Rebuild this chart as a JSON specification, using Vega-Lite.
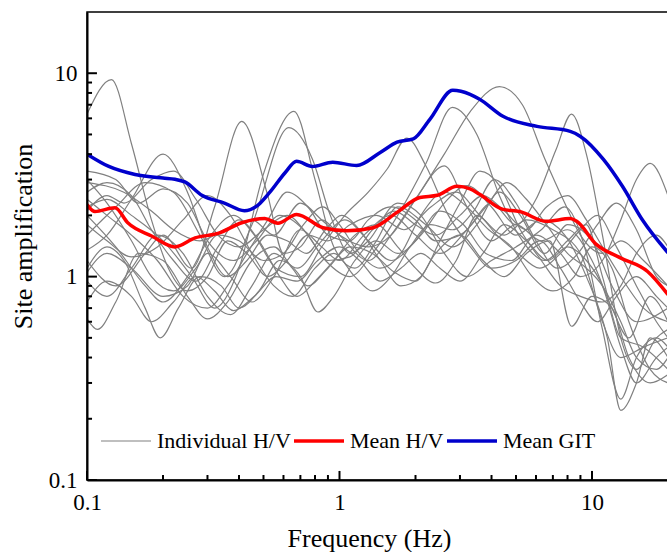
{
"$schema":"https://vega.github.io/schema/vega-lite/v6.json",
"width":581,"height":468,
"autosize":{"type":"none"},
"padding":{"left":87,"top":12,"right":0,"bottom":72},
"background":"white",
"config":{"view":{"stroke":"black","strokeWidth":1.5},"font":"Liberation Serif"},
"datasets":{"d":[
{"k":"Individual H/V","s":"g1","f":0.1,"v":6.3},{"k":"Individual H/V","s":"g1","f":0.125,"v":9.3},{"k":"Individual H/V","s":"g1","f":0.15,"v":4.5},{"k":"Individual H/V","s":"g1","f":0.18,"v":1.9},{"k":"Individual H/V","s":"g1","f":0.21,"v":1.1},{"k":"Individual H/V","s":"g1","f":0.25,"v":0.85},{"k":"Individual H/V","s":"g1","f":0.3,"v":1.0},{"k":"Individual H/V","s":"g1","f":0.36,"v":1.5},{"k":"Individual H/V","s":"g1","f":0.43,"v":1.3},{"k":"Individual H/V","s":"g1","f":0.52,"v":1.0},{"k":"Individual H/V","s":"g1","f":0.62,"v":1.2},{"k":"Individual H/V","s":"g1","f":0.75,"v":1.6},{"k":"Individual H/V","s":"g1","f":0.9,"v":1.5},{"k":"Individual H/V","s":"g1","f":1.1,"v":1.8},{"k":"Individual H/V","s":"g1","f":1.4,"v":2.0},{"k":"Individual H/V","s":"g1","f":1.8,"v":1.7},{"k":"Individual H/V","s":"g1","f":2.3,"v":2.2},{"k":"Individual H/V","s":"g1","f":2.9,"v":2.6},{"k":"Individual H/V","s":"g1","f":3.6,"v":2.0},{"k":"Individual H/V","s":"g1","f":4.5,"v":1.6},{"k":"Individual H/V","s":"g1","f":5.5,"v":1.9},{"k":"Individual H/V","s":"g1","f":7,"v":1.7},{"k":"Individual H/V","s":"g1","f":9,"v":1.3},{"k":"Individual H/V","s":"g1","f":11,"v":0.6},{"k":"Individual H/V","s":"g1","f":13,"v":0.4},{"k":"Individual H/V","s":"g1","f":16,"v":0.45},{"k":"Individual H/V","s":"g1","f":20,"v":0.5},
{"k":"Individual H/V","s":"g2","f":0.1,"v":1.2},{"k":"Individual H/V","s":"g2","f":0.13,"v":0.9},{"k":"Individual H/V","s":"g2","f":0.17,"v":1.3},{"k":"Individual H/V","s":"g2","f":0.2,"v":1.6},{"k":"Individual H/V","s":"g2","f":0.26,"v":1.1},{"k":"Individual H/V","s":"g2","f":0.32,"v":2.2},{"k":"Individual H/V","s":"g2","f":0.41,"v":5.8},{"k":"Individual H/V","s":"g2","f":0.52,"v":2.5},{"k":"Individual H/V","s":"g2","f":0.6,"v":1.3},{"k":"Individual H/V","s":"g2","f":0.7,"v":1.4},{"k":"Individual H/V","s":"g2","f":0.85,"v":1.9},{"k":"Individual H/V","s":"g2","f":1.0,"v":1.6},{"k":"Individual H/V","s":"g2","f":1.3,"v":1.2},{"k":"Individual H/V","s":"g2","f":1.6,"v":1.6},{"k":"Individual H/V","s":"g2","f":2.0,"v":2.4},{"k":"Individual H/V","s":"g2","f":2.6,"v":3.5},{"k":"Individual H/V","s":"g2","f":3.2,"v":2.2},{"k":"Individual H/V","s":"g2","f":4.0,"v":1.5},{"k":"Individual H/V","s":"g2","f":5,"v":1.8},{"k":"Individual H/V","s":"g2","f":6.3,"v":1.5},{"k":"Individual H/V","s":"g2","f":8,"v":1.7},{"k":"Individual H/V","s":"g2","f":10,"v":1.2},{"k":"Individual H/V","s":"g2","f":12,"v":0.7},{"k":"Individual H/V","s":"g2","f":14,"v":0.5},{"k":"Individual H/V","s":"g2","f":17,"v":0.8},{"k":"Individual H/V","s":"g2","f":20,"v":0.6},
{"k":"Individual H/V","s":"g3","f":0.1,"v":2.2},{"k":"Individual H/V","s":"g3","f":0.12,"v":2.4},{"k":"Individual H/V","s":"g3","f":0.15,"v":2.0},{"k":"Individual H/V","s":"g3","f":0.2,"v":1.5},{"k":"Individual H/V","s":"g3","f":0.26,"v":1.0},{"k":"Individual H/V","s":"g3","f":0.32,"v":0.7},{"k":"Individual H/V","s":"g3","f":0.4,"v":1.1},{"k":"Individual H/V","s":"g3","f":0.5,"v":3.2},{"k":"Individual H/V","s":"g3","f":0.66,"v":6.5},{"k":"Individual H/V","s":"g3","f":0.8,"v":3.0},{"k":"Individual H/V","s":"g3","f":0.95,"v":1.4},{"k":"Individual H/V","s":"g3","f":1.15,"v":1.1},{"k":"Individual H/V","s":"g3","f":1.4,"v":1.5},{"k":"Individual H/V","s":"g3","f":1.7,"v":2.2},{"k":"Individual H/V","s":"g3","f":2.2,"v":1.8},{"k":"Individual H/V","s":"g3","f":2.8,"v":1.4},{"k":"Individual H/V","s":"g3","f":3.5,"v":1.8},{"k":"Individual H/V","s":"g3","f":4.3,"v":2.6},{"k":"Individual H/V","s":"g3","f":5.2,"v":2.0},{"k":"Individual H/V","s":"g3","f":6.5,"v":1.3},{"k":"Individual H/V","s":"g3","f":8,"v":1.8},{"k":"Individual H/V","s":"g3","f":10,"v":1.5},{"k":"Individual H/V","s":"g3","f":12,"v":0.9},{"k":"Individual H/V","s":"g3","f":15,"v":0.6},{"k":"Individual H/V","s":"g3","f":20,"v":0.7},
{"k":"Individual H/V","s":"g4","f":0.1,"v":1.6},{"k":"Individual H/V","s":"g4","f":0.13,"v":2.2},{"k":"Individual H/V","s":"g4","f":0.17,"v":2.9},{"k":"Individual H/V","s":"g4","f":0.22,"v":2.6},{"k":"Individual H/V","s":"g4","f":0.28,"v":1.6},{"k":"Individual H/V","s":"g4","f":0.35,"v":1.0},{"k":"Individual H/V","s":"g4","f":0.45,"v":1.8},{"k":"Individual H/V","s":"g4","f":0.63,"v":5.4},{"k":"Individual H/V","s":"g4","f":0.78,"v":3.8},{"k":"Individual H/V","s":"g4","f":0.92,"v":2.0},{"k":"Individual H/V","s":"g4","f":1.1,"v":1.3},{"k":"Individual H/V","s":"g4","f":1.3,"v":1.5},{"k":"Individual H/V","s":"g4","f":1.7,"v":2.3},{"k":"Individual H/V","s":"g4","f":2.1,"v":2.0},{"k":"Individual H/V","s":"g4","f":2.6,"v":1.3},{"k":"Individual H/V","s":"g4","f":3.2,"v":1.0},{"k":"Individual H/V","s":"g4","f":4.0,"v":1.2},{"k":"Individual H/V","s":"g4","f":5.0,"v":1.4},{"k":"Individual H/V","s":"g4","f":6.3,"v":1.7},{"k":"Individual H/V","s":"g4","f":7.8,"v":2.2},{"k":"Individual H/V","s":"g4","f":9.5,"v":1.3},{"k":"Individual H/V","s":"g4","f":11,"v":0.55},{"k":"Individual H/V","s":"g4","f":13,"v":0.25},{"k":"Individual H/V","s":"g4","f":15,"v":0.4},{"k":"Individual H/V","s":"g4","f":18,"v":0.5},{"k":"Individual H/V","s":"g4","f":20,"v":0.45},
{"k":"Individual H/V","s":"g5","f":0.1,"v":2.9},{"k":"Individual H/V","s":"g5","f":0.14,"v":2.6},{"k":"Individual H/V","s":"g5","f":0.18,"v":2.1},{"k":"Individual H/V","s":"g5","f":0.22,"v":1.7},{"k":"Individual H/V","s":"g5","f":0.28,"v":1.5},{"k":"Individual H/V","s":"g5","f":0.35,"v":1.7},{"k":"Individual H/V","s":"g5","f":0.45,"v":1.9},{"k":"Individual H/V","s":"g5","f":0.55,"v":1.6},{"k":"Individual H/V","s":"g5","f":0.7,"v":2.3},{"k":"Individual H/V","s":"g5","f":0.85,"v":1.9},{"k":"Individual H/V","s":"g5","f":1.0,"v":1.6},{"k":"Individual H/V","s":"g5","f":1.3,"v":1.4},{"k":"Individual H/V","s":"g5","f":1.6,"v":1.6},{"k":"Individual H/V","s":"g5","f":2.0,"v":2.4},{"k":"Individual H/V","s":"g5","f":2.6,"v":4.0},{"k":"Individual H/V","s":"g5","f":3.3,"v":6.5},{"k":"Individual H/V","s":"g5","f":4.3,"v":8.6},{"k":"Individual H/V","s":"g5","f":5.3,"v":7.0},{"k":"Individual H/V","s":"g5","f":6.5,"v":3.8},{"k":"Individual H/V","s":"g5","f":7.8,"v":2.3},{"k":"Individual H/V","s":"g5","f":9,"v":1.6},{"k":"Individual H/V","s":"g5","f":11,"v":1.3},{"k":"Individual H/V","s":"g5","f":13,"v":1.5},{"k":"Individual H/V","s":"g5","f":16,"v":1.2},{"k":"Individual H/V","s":"g5","f":20,"v":0.9},
{"k":"Individual H/V","s":"g6","f":0.1,"v":1.05},{"k":"Individual H/V","s":"g6","f":0.12,"v":1.3},{"k":"Individual H/V","s":"g6","f":0.15,"v":1.1},{"k":"Individual H/V","s":"g6","f":0.2,"v":0.8},{"k":"Individual H/V","s":"g6","f":0.25,"v":0.9},{"k":"Individual H/V","s":"g6","f":0.3,"v":1.3},{"k":"Individual H/V","s":"g6","f":0.37,"v":1.0},{"k":"Individual H/V","s":"g6","f":0.45,"v":0.75},{"k":"Individual H/V","s":"g6","f":0.55,"v":1.0},{"k":"Individual H/V","s":"g6","f":0.7,"v":1.7},{"k":"Individual H/V","s":"g6","f":0.85,"v":1.4},{"k":"Individual H/V","s":"g6","f":1.0,"v":1.2},{"k":"Individual H/V","s":"g6","f":1.25,"v":1.6},{"k":"Individual H/V","s":"g6","f":1.6,"v":2.0},{"k":"Individual H/V","s":"g6","f":2.0,"v":1.6},{"k":"Individual H/V","s":"g6","f":2.5,"v":1.3},{"k":"Individual H/V","s":"g6","f":3.2,"v":1.7},{"k":"Individual H/V","s":"g6","f":4.0,"v":2.3},{"k":"Individual H/V","s":"g6","f":5.0,"v":1.8},{"k":"Individual H/V","s":"g6","f":6.0,"v":2.4},{"k":"Individual H/V","s":"g6","f":7.2,"v":4.2},{"k":"Individual H/V","s":"g6","f":8.3,"v":6.3},{"k":"Individual H/V","s":"g6","f":9.5,"v":4.0},{"k":"Individual H/V","s":"g6","f":11,"v":1.6},{"k":"Individual H/V","s":"g6","f":13,"v":0.5},{"k":"Individual H/V","s":"g6","f":15,"v":0.35},{"k":"Individual H/V","s":"g6","f":18,"v":0.5},{"k":"Individual H/V","s":"g6","f":20,"v":0.55},
{"k":"Individual H/V","s":"g7","f":0.1,"v":0.95},{"k":"Individual H/V","s":"g7","f":0.12,"v":0.8},{"k":"Individual H/V","s":"g7","f":0.15,"v":1.1},{"k":"Individual H/V","s":"g7","f":0.19,"v":1.6},{"k":"Individual H/V","s":"g7","f":0.24,"v":1.3},{"k":"Individual H/V","s":"g7","f":0.3,"v":0.8},{"k":"Individual H/V","s":"g7","f":0.37,"v":0.65},{"k":"Individual H/V","s":"g7","f":0.45,"v":0.9},{"k":"Individual H/V","s":"g7","f":0.55,"v":1.3},{"k":"Individual H/V","s":"g7","f":0.68,"v":1.1},{"k":"Individual H/V","s":"g7","f":0.85,"v":1.5},{"k":"Individual H/V","s":"g7","f":1.05,"v":1.9},{"k":"Individual H/V","s":"g7","f":1.3,"v":1.5},{"k":"Individual H/V","s":"g7","f":1.6,"v":1.2},{"k":"Individual H/V","s":"g7","f":2.0,"v":1.5},{"k":"Individual H/V","s":"g7","f":2.5,"v":2.1},{"k":"Individual H/V","s":"g7","f":3.1,"v":1.8},{"k":"Individual H/V","s":"g7","f":3.8,"v":1.3},{"k":"Individual H/V","s":"g7","f":4.8,"v":1.2},{"k":"Individual H/V","s":"g7","f":6.0,"v":1.6},{"k":"Individual H/V","s":"g7","f":7.5,"v":1.3},{"k":"Individual H/V","s":"g7","f":9,"v":1.0},{"k":"Individual H/V","s":"g7","f":11,"v":1.2},{"k":"Individual H/V","s":"g7","f":13,"v":1.9},{"k":"Individual H/V","s":"g7","f":15,"v":3.0},{"k":"Individual H/V","s":"g7","f":17,"v":3.6},{"k":"Individual H/V","s":"g7","f":20,"v":2.5},
{"k":"Individual H/V","s":"g8","f":0.1,"v":3.3},{"k":"Individual H/V","s":"g8","f":0.13,"v":3.0},{"k":"Individual H/V","s":"g8","f":0.16,"v":2.3},{"k":"Individual H/V","s":"g8","f":0.2,"v":2.7},{"k":"Individual H/V","s":"g8","f":0.25,"v":2.3},{"k":"Individual H/V","s":"g8","f":0.3,"v":1.5},{"k":"Individual H/V","s":"g8","f":0.38,"v":1.2},{"k":"Individual H/V","s":"g8","f":0.47,"v":1.5},{"k":"Individual H/V","s":"g8","f":0.58,"v":2.0},{"k":"Individual H/V","s":"g8","f":0.72,"v":1.7},{"k":"Individual H/V","s":"g8","f":0.88,"v":1.2},{"k":"Individual H/V","s":"g8","f":1.1,"v":1.0},{"k":"Individual H/V","s":"g8","f":1.35,"v":1.3},{"k":"Individual H/V","s":"g8","f":1.7,"v":2.0},{"k":"Individual H/V","s":"g8","f":2.2,"v":3.6},{"k":"Individual H/V","s":"g8","f":2.8,"v":6.8},{"k":"Individual H/V","s":"g8","f":3.5,"v":5.0},{"k":"Individual H/V","s":"g8","f":4.3,"v":2.5},{"k":"Individual H/V","s":"g8","f":5.3,"v":1.5},{"k":"Individual H/V","s":"g8","f":6.5,"v":1.2},{"k":"Individual H/V","s":"g8","f":8,"v":1.5},{"k":"Individual H/V","s":"g8","f":9.5,"v":1.8},{"k":"Individual H/V","s":"g8","f":11,"v":1.0},{"k":"Individual H/V","s":"g8","f":13,"v":0.5},{"k":"Individual H/V","s":"g8","f":16,"v":0.45},{"k":"Individual H/V","s":"g8","f":20,"v":0.35},
{"k":"Individual H/V","s":"g9","f":0.1,"v":2.0},{"k":"Individual H/V","s":"g9","f":0.13,"v":1.4},{"k":"Individual H/V","s":"g9","f":0.17,"v":0.9},{"k":"Individual H/V","s":"g9","f":0.2,"v":0.75},{"k":"Individual H/V","s":"g9","f":0.25,"v":1.0},{"k":"Individual H/V","s":"g9","f":0.31,"v":1.6},{"k":"Individual H/V","s":"g9","f":0.38,"v":2.0},{"k":"Individual H/V","s":"g9","f":0.46,"v":1.6},{"k":"Individual H/V","s":"g9","f":0.56,"v":1.1},{"k":"Individual H/V","s":"g9","f":0.7,"v":1.0},{"k":"Individual H/V","s":"g9","f":0.85,"v":1.4},{"k":"Individual H/V","s":"g9","f":1.05,"v":2.0},{"k":"Individual H/V","s":"g9","f":1.3,"v":2.6},{"k":"Individual H/V","s":"g9","f":1.55,"v":3.4},{"k":"Individual H/V","s":"g9","f":1.85,"v":4.8},{"k":"Individual H/V","s":"g9","f":2.2,"v":3.5},{"k":"Individual H/V","s":"g9","f":2.7,"v":2.0},{"k":"Individual H/V","s":"g9","f":3.3,"v":1.4},{"k":"Individual H/V","s":"g9","f":4,"v":1.1},{"k":"Individual H/V","s":"g9","f":5,"v":1.2},{"k":"Individual H/V","s":"g9","f":6.2,"v":1.5},{"k":"Individual H/V","s":"g9","f":7.5,"v":1.1},{"k":"Individual H/V","s":"g9","f":9,"v":0.75},{"k":"Individual H/V","s":"g9","f":10.5,"v":0.6},{"k":"Individual H/V","s":"g9","f":12.5,"v":0.8},{"k":"Individual H/V","s":"g9","f":15,"v":1.0},{"k":"Individual H/V","s":"g9","f":18,"v":0.8},{"k":"Individual H/V","s":"g9","f":20,"v":0.7},
{"k":"Individual H/V","s":"g10","f":0.1,"v":1.1},{"k":"Individual H/V","s":"g10","f":0.12,"v":1.4},{"k":"Individual H/V","s":"g10","f":0.14,"v":1.2},{"k":"Individual H/V","s":"g10","f":0.17,"v":0.7},{"k":"Individual H/V","s":"g10","f":0.195,"v":0.5},{"k":"Individual H/V","s":"g10","f":0.23,"v":0.7},{"k":"Individual H/V","s":"g10","f":0.28,"v":1.0},{"k":"Individual H/V","s":"g10","f":0.34,"v":0.9},{"k":"Individual H/V","s":"g10","f":0.4,"v":0.7},{"k":"Individual H/V","s":"g10","f":0.48,"v":0.85},{"k":"Individual H/V","s":"g10","f":0.58,"v":1.2},{"k":"Individual H/V","s":"g10","f":0.7,"v":1.0},{"k":"Individual H/V","s":"g10","f":0.82,"v":0.67},{"k":"Individual H/V","s":"g10","f":0.95,"v":0.8},{"k":"Individual H/V","s":"g10","f":1.15,"v":1.2},{"k":"Individual H/V","s":"g10","f":1.4,"v":1.5},{"k":"Individual H/V","s":"g10","f":1.7,"v":1.3},{"k":"Individual H/V","s":"g10","f":2.1,"v":1.6},{"k":"Individual H/V","s":"g10","f":2.6,"v":2.3},{"k":"Individual H/V","s":"g10","f":3.2,"v":2.8},{"k":"Individual H/V","s":"g10","f":4,"v":2.2},{"k":"Individual H/V","s":"g10","f":5,"v":1.6},{"k":"Individual H/V","s":"g10","f":6.3,"v":1.9},{"k":"Individual H/V","s":"g10","f":7.8,"v":1.6},{"k":"Individual H/V","s":"g10","f":9.5,"v":1.0},{"k":"Individual H/V","s":"g10","f":11.5,"v":0.5},{"k":"Individual H/V","s":"g10","f":13,"v":0.22},{"k":"Individual H/V","s":"g10","f":15,"v":0.3},{"k":"Individual H/V","s":"g10","f":17,"v":0.5},{"k":"Individual H/V","s":"g10","f":20,"v":0.4},
{"k":"Individual H/V","s":"g11","f":0.1,"v":0.62},{"k":"Individual H/V","s":"g11","f":0.11,"v":0.55},{"k":"Individual H/V","s":"g11","f":0.13,"v":0.75},{"k":"Individual H/V","s":"g11","f":0.16,"v":1.3},{"k":"Individual H/V","s":"g11","f":0.2,"v":1.2},{"k":"Individual H/V","s":"g11","f":0.25,"v":0.8},{"k":"Individual H/V","s":"g11","f":0.3,"v":0.62},{"k":"Individual H/V","s":"g11","f":0.36,"v":0.75},{"k":"Individual H/V","s":"g11","f":0.45,"v":1.2},{"k":"Individual H/V","s":"g11","f":0.55,"v":1.4},{"k":"Individual H/V","s":"g11","f":0.65,"v":1.1},{"k":"Individual H/V","s":"g11","f":0.75,"v":0.9},{"k":"Individual H/V","s":"g11","f":0.9,"v":1.1},{"k":"Individual H/V","s":"g11","f":1.1,"v":1.4},{"k":"Individual H/V","s":"g11","f":1.35,"v":1.3},{"k":"Individual H/V","s":"g11","f":1.65,"v":1.05},{"k":"Individual H/V","s":"g11","f":2.0,"v":0.95},{"k":"Individual H/V","s":"g11","f":2.4,"v":1.3},{"k":"Individual H/V","s":"g11","f":3.0,"v":1.6},{"k":"Individual H/V","s":"g11","f":3.7,"v":1.2},{"k":"Individual H/V","s":"g11","f":4.5,"v":1.0},{"k":"Individual H/V","s":"g11","f":5.5,"v":1.3},{"k":"Individual H/V","s":"g11","f":6.8,"v":1.5},{"k":"Individual H/V","s":"g11","f":8.3,"v":0.57},{"k":"Individual H/V","s":"g11","f":10,"v":0.8},{"k":"Individual H/V","s":"g11","f":12,"v":0.7},{"k":"Individual H/V","s":"g11","f":14,"v":0.4},{"k":"Individual H/V","s":"g11","f":17,"v":0.3},{"k":"Individual H/V","s":"g11","f":20,"v":0.33},
{"k":"Individual H/V","s":"g12","f":0.1,"v":2.4},{"k":"Individual H/V","s":"g12","f":0.12,"v":2.0},{"k":"Individual H/V","s":"g12","f":0.15,"v":1.6},{"k":"Individual H/V","s":"g12","f":0.19,"v":1.2},{"k":"Individual H/V","s":"g12","f":0.24,"v":0.8},{"k":"Individual H/V","s":"g12","f":0.3,"v":0.7},{"k":"Individual H/V","s":"g12","f":0.36,"v":0.9},{"k":"Individual H/V","s":"g12","f":0.43,"v":1.3},{"k":"Individual H/V","s":"g12","f":0.52,"v":1.9},{"k":"Individual H/V","s":"g12","f":0.62,"v":2.6},{"k":"Individual H/V","s":"g12","f":0.75,"v":2.2},{"k":"Individual H/V","s":"g12","f":0.9,"v":1.6},{"k":"Individual H/V","s":"g12","f":1.1,"v":1.5},{"k":"Individual H/V","s":"g12","f":1.3,"v":1.9},{"k":"Individual H/V","s":"g12","f":1.6,"v":2.2},{"k":"Individual H/V","s":"g12","f":2.0,"v":1.9},{"k":"Individual H/V","s":"g12","f":2.4,"v":1.5},{"k":"Individual H/V","s":"g12","f":3.0,"v":1.6},{"k":"Individual H/V","s":"g12","f":3.8,"v":2.2},{"k":"Individual H/V","s":"g12","f":4.6,"v":2.9},{"k":"Individual H/V","s":"g12","f":5.5,"v":2.4},{"k":"Individual H/V","s":"g12","f":6.6,"v":1.8},{"k":"Individual H/V","s":"g12","f":8,"v":1.3},{"k":"Individual H/V","s":"g12","f":9.5,"v":1.1},{"k":"Individual H/V","s":"g12","f":11,"v":0.9},{"k":"Individual H/V","s":"g12","f":13,"v":0.6},{"k":"Individual H/V","s":"g12","f":15,"v":0.4},{"k":"Individual H/V","s":"g12","f":18,"v":0.35},{"k":"Individual H/V","s":"g12","f":20,"v":0.4},
{"k":"Individual H/V","s":"g13","f":0.1,"v":1.35},{"k":"Individual H/V","s":"g13","f":0.12,"v":1.6},{"k":"Individual H/V","s":"g13","f":0.15,"v":2.4},{"k":"Individual H/V","s":"g13","f":0.2,"v":4.0},{"k":"Individual H/V","s":"g13","f":0.25,"v":2.6},{"k":"Individual H/V","s":"g13","f":0.3,"v":1.4},{"k":"Individual H/V","s":"g13","f":0.36,"v":1.0},{"k":"Individual H/V","s":"g13","f":0.43,"v":1.2},{"k":"Individual H/V","s":"g13","f":0.52,"v":1.6},{"k":"Individual H/V","s":"g13","f":0.62,"v":1.5},{"k":"Individual H/V","s":"g13","f":0.74,"v":1.3},{"k":"Individual H/V","s":"g13","f":0.88,"v":1.7},{"k":"Individual H/V","s":"g13","f":1.02,"v":2.0},{"k":"Individual H/V","s":"g13","f":1.2,"v":1.7},{"k":"Individual H/V","s":"g13","f":1.45,"v":1.2},{"k":"Individual H/V","s":"g13","f":1.75,"v":0.9},{"k":"Individual H/V","s":"g13","f":2.1,"v":1.0},{"k":"Individual H/V","s":"g13","f":2.5,"v":1.5},{"k":"Individual H/V","s":"g13","f":3.0,"v":2.3},{"k":"Individual H/V","s":"g13","f":3.6,"v":3.3},{"k":"Individual H/V","s":"g13","f":4.3,"v":2.8},{"k":"Individual H/V","s":"g13","f":5.2,"v":1.7},{"k":"Individual H/V","s":"g13","f":6.3,"v":1.2},{"k":"Individual H/V","s":"g13","f":7.5,"v":0.9},{"k":"Individual H/V","s":"g13","f":9,"v":0.8},{"k":"Individual H/V","s":"g13","f":11,"v":0.75},{"k":"Individual H/V","s":"g13","f":13,"v":0.9},{"k":"Individual H/V","s":"g13","f":15,"v":1.3},{"k":"Individual H/V","s":"g13","f":18,"v":1.6},{"k":"Individual H/V","s":"g13","f":20,"v":1.4},
{"k":"Individual H/V","s":"g14","f":0.1,"v":2.6},{"k":"Individual H/V","s":"g14","f":0.12,"v":2.9},{"k":"Individual H/V","s":"g14","f":0.15,"v":2.5},{"k":"Individual H/V","s":"g14","f":0.18,"v":1.7},{"k":"Individual H/V","s":"g14","f":0.22,"v":1.2},{"k":"Individual H/V","s":"g14","f":0.27,"v":0.95},{"k":"Individual H/V","s":"g14","f":0.33,"v":1.4},{"k":"Individual H/V","s":"g14","f":0.4,"v":1.9},{"k":"Individual H/V","s":"g14","f":0.48,"v":1.5},{"k":"Individual H/V","s":"g14","f":0.58,"v":1.0},{"k":"Individual H/V","s":"g14","f":0.68,"v":0.8},{"k":"Individual H/V","s":"g14","f":0.8,"v":0.95},{"k":"Individual H/V","s":"g14","f":0.95,"v":1.2},{"k":"Individual H/V","s":"g14","f":1.15,"v":1.6},{"k":"Individual H/V","s":"g14","f":1.4,"v":1.8},{"k":"Individual H/V","s":"g14","f":1.7,"v":1.4},{"k":"Individual H/V","s":"g14","f":2.0,"v":1.1},{"k":"Individual H/V","s":"g14","f":2.4,"v":0.93},{"k":"Individual H/V","s":"g14","f":2.9,"v":1.2},{"k":"Individual H/V","s":"g14","f":3.5,"v":2.0},{"k":"Individual H/V","s":"g14","f":4.2,"v":1.6},{"k":"Individual H/V","s":"g14","f":5.1,"v":1.3},{"k":"Individual H/V","s":"g14","f":6.2,"v":1.1},{"k":"Individual H/V","s":"g14","f":7.5,"v":1.3},{"k":"Individual H/V","s":"g14","f":9,"v":1.7},{"k":"Individual H/V","s":"g14","f":10.5,"v":2.0},{"k":"Individual H/V","s":"g14","f":12.5,"v":1.4},{"k":"Individual H/V","s":"g14","f":15,"v":0.9},{"k":"Individual H/V","s":"g14","f":18,"v":0.6},{"k":"Individual H/V","s":"g14","f":20,"v":0.5},
{"k":"Individual H/V","s":"g15","f":0.1,"v":1.8},{"k":"Individual H/V","s":"g15","f":0.12,"v":1.5},{"k":"Individual H/V","s":"g15","f":0.15,"v":1.25},{"k":"Individual H/V","s":"g15","f":0.19,"v":1.4},{"k":"Individual H/V","s":"g15","f":0.24,"v":1.9},{"k":"Individual H/V","s":"g15","f":0.3,"v":2.5},{"k":"Individual H/V","s":"g15","f":0.37,"v":2.0},{"k":"Individual H/V","s":"g15","f":0.45,"v":1.3},{"k":"Individual H/V","s":"g15","f":0.55,"v":0.9},{"k":"Individual H/V","s":"g15","f":0.65,"v":0.8},{"k":"Individual H/V","s":"g15","f":0.8,"v":1.1},{"k":"Individual H/V","s":"g15","f":0.95,"v":1.3},{"k":"Individual H/V","s":"g15","f":1.15,"v":1.0},{"k":"Individual H/V","s":"g15","f":1.35,"v":0.85},{"k":"Individual H/V","s":"g15","f":1.6,"v":1.0},{"k":"Individual H/V","s":"g15","f":1.9,"v":1.4},{"k":"Individual H/V","s":"g15","f":2.3,"v":1.8},{"k":"Individual H/V","s":"g15","f":2.8,"v":1.7},{"k":"Individual H/V","s":"g15","f":3.4,"v":2.1},{"k":"Individual H/V","s":"g15","f":4.1,"v":3.0},{"k":"Individual H/V","s":"g15","f":5.0,"v":2.3},{"k":"Individual H/V","s":"g15","f":6,"v":1.5},{"k":"Individual H/V","s":"g15","f":7.3,"v":1.1},{"k":"Individual H/V","s":"g15","f":8.8,"v":1.3},{"k":"Individual H/V","s":"g15","f":10.5,"v":1.8},{"k":"Individual H/V","s":"g15","f":12.5,"v":2.3},{"k":"Individual H/V","s":"g15","f":15,"v":1.7},{"k":"Individual H/V","s":"g15","f":18,"v":1.0},{"k":"Individual H/V","s":"g15","f":20,"v":0.9},
{"k":"Individual H/V","s":"g16","f":0.1,"v":3.0},{"k":"Individual H/V","s":"g16","f":0.12,"v":2.3},{"k":"Individual H/V","s":"g16","f":0.15,"v":1.5},{"k":"Individual H/V","s":"g16","f":0.18,"v":1.0},{"k":"Individual H/V","s":"g16","f":0.22,"v":0.85},{"k":"Individual H/V","s":"g16","f":0.27,"v":1.1},{"k":"Individual H/V","s":"g16","f":0.33,"v":1.6},{"k":"Individual H/V","s":"g16","f":0.4,"v":1.5},{"k":"Individual H/V","s":"g16","f":0.5,"v":1.2},{"k":"Individual H/V","s":"g16","f":0.6,"v":1.3},{"k":"Individual H/V","s":"g16","f":0.72,"v":1.8},{"k":"Individual H/V","s":"g16","f":0.86,"v":2.2},{"k":"Individual H/V","s":"g16","f":1.0,"v":1.8},{"k":"Individual H/V","s":"g16","f":1.2,"v":1.3},{"k":"Individual H/V","s":"g16","f":1.45,"v":1.1},{"k":"Individual H/V","s":"g16","f":1.75,"v":1.3},{"k":"Individual H/V","s":"g16","f":2.1,"v":2.0},{"k":"Individual H/V","s":"g16","f":2.6,"v":2.6},{"k":"Individual H/V","s":"g16","f":3.2,"v":2.2},{"k":"Individual H/V","s":"g16","f":3.9,"v":1.7},{"k":"Individual H/V","s":"g16","f":4.8,"v":1.4},{"k":"Individual H/V","s":"g16","f":5.8,"v":1.0},{"k":"Individual H/V","s":"g16","f":7,"v":0.85},{"k":"Individual H/V","s":"g16","f":8.5,"v":1.0},{"k":"Individual H/V","s":"g16","f":10,"v":1.4},{"k":"Individual H/V","s":"g16","f":12,"v":1.1},{"k":"Individual H/V","s":"g16","f":14,"v":0.6},{"k":"Individual H/V","s":"g16","f":17,"v":0.35},{"k":"Individual H/V","s":"g16","f":20,"v":0.3},
{"k":"Individual H/V","s":"g17","f":0.1,"v":0.75},{"k":"Individual H/V","s":"g17","f":0.12,"v":0.95},{"k":"Individual H/V","s":"g17","f":0.15,"v":0.8},{"k":"Individual H/V","s":"g17","f":0.18,"v":0.6},{"k":"Individual H/V","s":"g17","f":0.22,"v":0.75},{"k":"Individual H/V","s":"g17","f":0.27,"v":1.0},{"k":"Individual H/V","s":"g17","f":0.32,"v":0.85},{"k":"Individual H/V","s":"g17","f":0.38,"v":0.68},{"k":"Individual H/V","s":"g17","f":0.46,"v":0.8},{"k":"Individual H/V","s":"g17","f":0.56,"v":1.0},{"k":"Individual H/V","s":"g17","f":0.68,"v":0.95},{"k":"Individual H/V","s":"g17","f":0.82,"v":1.2},{"k":"Individual H/V","s":"g17","f":1.0,"v":1.4},{"k":"Individual H/V","s":"g17","f":1.2,"v":1.2},{"k":"Individual H/V","s":"g17","f":1.45,"v":0.95},{"k":"Individual H/V","s":"g17","f":1.75,"v":1.1},{"k":"Individual H/V","s":"g17","f":2.1,"v":1.3},{"k":"Individual H/V","s":"g17","f":2.5,"v":1.1},{"k":"Individual H/V","s":"g17","f":3.0,"v":0.95},{"k":"Individual H/V","s":"g17","f":3.7,"v":1.3},{"k":"Individual H/V","s":"g17","f":4.5,"v":1.8},{"k":"Individual H/V","s":"g17","f":5.5,"v":1.5},{"k":"Individual H/V","s":"g17","f":6.7,"v":1.2},{"k":"Individual H/V","s":"g17","f":8,"v":1.4},{"k":"Individual H/V","s":"g17","f":9.5,"v":1.2},{"k":"Individual H/V","s":"g17","f":11,"v":0.9},{"k":"Individual H/V","s":"g17","f":13,"v":0.45},{"k":"Individual H/V","s":"g17","f":15,"v":0.3},{"k":"Individual H/V","s":"g17","f":18,"v":0.4},{"k":"Individual H/V","s":"g17","f":20,"v":0.45},
{"k":"Individual H/V","s":"g18","f":0.1,"v":2.1},{"k":"Individual H/V","s":"g18","f":0.12,"v":2.5},{"k":"Individual H/V","s":"g18","f":0.14,"v":2.3},{"k":"Individual H/V","s":"g18","f":0.18,"v":3.0},{"k":"Individual H/V","s":"g18","f":0.22,"v":3.3},{"k":"Individual H/V","s":"g18","f":0.27,"v":2.4},{"k":"Individual H/V","s":"g18","f":0.33,"v":1.6},{"k":"Individual H/V","s":"g18","f":0.4,"v":1.4},{"k":"Individual H/V","s":"g18","f":0.5,"v":1.7},{"k":"Individual H/V","s":"g18","f":0.62,"v":2.0},{"k":"Individual H/V","s":"g18","f":0.75,"v":1.6},{"k":"Individual H/V","s":"g18","f":0.9,"v":1.2},{"k":"Individual H/V","s":"g18","f":1.1,"v":1.25},{"k":"Individual H/V","s":"g18","f":1.35,"v":1.7},{"k":"Individual H/V","s":"g18","f":1.65,"v":2.1},{"k":"Individual H/V","s":"g18","f":2.0,"v":1.8},{"k":"Individual H/V","s":"g18","f":2.4,"v":1.6},{"k":"Individual H/V","s":"g18","f":3.0,"v":2.0},{"k":"Individual H/V","s":"g18","f":3.7,"v":2.5},{"k":"Individual H/V","s":"g18","f":4.5,"v":2.1},{"k":"Individual H/V","s":"g18","f":5.5,"v":1.7},{"k":"Individual H/V","s":"g18","f":6.6,"v":2.2},{"k":"Individual H/V","s":"g18","f":8,"v":2.5},{"k":"Individual H/V","s":"g18","f":9.5,"v":1.9},{"k":"Individual H/V","s":"g18","f":11,"v":1.4},{"k":"Individual H/V","s":"g18","f":13,"v":1.0},{"k":"Individual H/V","s":"g18","f":16,"v":0.7},{"k":"Individual H/V","s":"g18","f":20,"v":0.6},
{"k":"Mean H/V","s":"r","f":0.1,"v":2.26},{"k":"Mean H/V","s":"r","f":0.1075,"v":2.09},{"k":"Mean H/V","s":"r","f":0.129,"v":2.18},{"k":"Mean H/V","s":"r","f":0.145,"v":1.84},{"k":"Mean H/V","s":"r","f":0.181,"v":1.58},{"k":"Mean H/V","s":"r","f":0.223,"v":1.4},{"k":"Mean H/V","s":"r","f":0.268,"v":1.55},{"k":"Mean H/V","s":"r","f":0.33,"v":1.63},{"k":"Mean H/V","s":"r","f":0.41,"v":1.84},{"k":"Mean H/V","s":"r","f":0.506,"v":1.93},{"k":"Mean H/V","s":"r","f":0.57,"v":1.83},{"k":"Mean H/V","s":"r","f":0.676,"v":2.02},{"k":"Mean H/V","s":"r","f":0.86,"v":1.74},{"k":"Mean H/V","s":"r","f":1.07,"v":1.68},{"k":"Mean H/V","s":"r","f":1.36,"v":1.74},{"k":"Mean H/V","s":"r","f":1.69,"v":2.07},{"k":"Mean H/V","s":"r","f":2.08,"v":2.45},{"k":"Mean H/V","s":"r","f":2.44,"v":2.51},{"k":"Mean H/V","s":"r","f":2.92,"v":2.78},{"k":"Mean H/V","s":"r","f":3.29,"v":2.7},{"k":"Mean H/V","s":"r","f":3.59,"v":2.54},{"k":"Mean H/V","s":"r","f":4.44,"v":2.14},{"k":"Mean H/V","s":"r","f":5.17,"v":2.09},{"k":"Mean H/V","s":"r","f":6.6,"v":1.87},{"k":"Mean H/V","s":"r","f":8.2,"v":1.93},{"k":"Mean H/V","s":"r","f":8.7,"v":1.87},{"k":"Mean H/V","s":"r","f":10.4,"v":1.44},{"k":"Mean H/V","s":"r","f":12.9,"v":1.24},{"k":"Mean H/V","s":"r","f":16.6,"v":1.06},{"k":"Mean H/V","s":"r","f":20,"v":0.815},
{"k":"Mean GIT","s":"b","f":0.1,"v":4.0},{"k":"Mean GIT","s":"b","f":0.122,"v":3.48},{"k":"Mean GIT","s":"b","f":0.155,"v":3.18},{"k":"Mean GIT","s":"b","f":0.2,"v":3.05},{"k":"Mean GIT","s":"b","f":0.223,"v":3.01},{"k":"Mean GIT","s":"b","f":0.244,"v":2.92},{"k":"Mean GIT","s":"b","f":0.285,"v":2.51},{"k":"Mean GIT","s":"b","f":0.35,"v":2.3},{"k":"Mean GIT","s":"b","f":0.42,"v":2.11},{"k":"Mean GIT","s":"b","f":0.47,"v":2.22},{"k":"Mean GIT","s":"b","f":0.53,"v":2.6},{"k":"Mean GIT","s":"b","f":0.61,"v":3.25},{"k":"Mean GIT","s":"b","f":0.676,"v":3.69},{"k":"Mean GIT","s":"b","f":0.78,"v":3.48},{"k":"Mean GIT","s":"b","f":0.94,"v":3.65},{"k":"Mean GIT","s":"b","f":1.17,"v":3.52},{"k":"Mean GIT","s":"b","f":1.45,"v":4.08},{"k":"Mean GIT","s":"b","f":1.69,"v":4.58},{"k":"Mean GIT","s":"b","f":1.96,"v":4.75},{"k":"Mean GIT","s":"b","f":2.28,"v":5.93},{"k":"Mean GIT","s":"b","f":2.81,"v":8.25},{"k":"Mean GIT","s":"b","f":3.29,"v":7.88},{"k":"Mean GIT","s":"b","f":3.59,"v":7.45},{"k":"Mean GIT","s":"b","f":4.44,"v":6.14},{"k":"Mean GIT","s":"b","f":6.06,"v":5.48},{"k":"Mean GIT","s":"b","f":8.2,"v":5.18},{"k":"Mean GIT","s":"b","f":9.0,"v":4.89},{"k":"Mean GIT","s":"b","f":11.1,"v":3.77},{"k":"Mean GIT","s":"b","f":13.2,"v":2.78},{"k":"Mean GIT","s":"b","f":15.8,"v":1.91},{"k":"Mean GIT","s":"b","f":20,"v":1.31}
],
"major":[{"t":0.1},{"t":1},{"t":10}],
"minor":[{"t":0.2},{"t":0.3},{"t":0.4},{"t":0.5},{"t":0.6},{"t":0.7},{"t":0.8},{"t":0.9},{"t":2},{"t":3},{"t":4},{"t":5},{"t":6},{"t":7},{"t":8},{"t":9}]
},
"resolve":{"axis":{"x":"independent","y":"independent"}},
"layer":[
{
"data":{"name":"d"},
"mark":{"type":"line","interpolate":"monotone","clip":true},
"encoding":{
 "x":{"field":"f","type":"quantitative","title":"Frequency (Hz)",
  "scale":{"type":"log","domain":[0.1,20],"nice":false},
  "axis":{"orient":"bottom","values":[0.1,1,10],"zindex":1,
   "labelExpr":"datum.value == 0.1 ? '0.1' : datum.value == 1 ? '1' : '10'",
   "grid":false,"domainColor":"black","domainWidth":2,"ticks":false,"tickSize":0,
   "labelFont":"Liberation Serif","labelFontSize":23,"labelColor":"black","labelPadding":11,"labelFlush":false,"labelOverlap":false,
   "titleFont":"Liberation Serif","titleFontSize":26,"titleFontWeight":"normal","titleColor":"black","titlePadding":11,"titleX":282}},
 "y":{"field":"v","type":"quantitative","title":"Site amplification",
  "scale":{"type":"log","domain":[0.1,20],"nice":false},
  "axis":{"orient":"left","values":[0.1,1,10],"zindex":1,
   "labelExpr":"datum.value == 0.1 ? '0.1' : datum.value == 1 ? '1' : '10'",
   "grid":false,"domainColor":"black","domainWidth":2,"ticks":false,"tickSize":0,
   "labelFont":"Liberation Serif","labelFontSize":23,"labelColor":"black","labelPadding":10,"labelFlush":false,"labelOverlap":false,
   "titleFont":"Liberation Serif","titleFontSize":26,"titleFontWeight":"normal","titleColor":"black","titlePadding":12,"titleY":224}},
 "color":{"field":"k","type":"nominal",
  "scale":{"domain":["Individual H/V","Mean H/V","Mean GIT"],"range":["#808080","#ff0000","#0000cc"]},
  "legend":{"title":null,"orient":"none","legendX":28,"legendY":418,"direction":"horizontal",
   "symbolType":"stroke","symbolSize":2500,"symbolStrokeWidth":3.5,
   "labelFont":"Liberation Serif","labelFontSize":22,"labelColor":"black","labelOffset":20,"columnPadding":-4,"padding":0,
   "encode":{"symbols":{"update":{"strokeWidth":{"signal":"datum.value === 'Individual H/V' ? 1.2 : 3.5"}}}}}},
 "detail":{"field":"s","type":"nominal"},
 "strokeWidth":{"condition":{"test":"datum.k === 'Individual H/V'","value":1.2},"value":3.5}
}
},
{
"data":{"name":"major"},
"mark":{"type":"rule","color":"black","strokeWidth":2,"opacity":1},
"encoding":{
 "x":{"field":"t","type":"quantitative","axis":null},
 "y":{"datum":0.1,"type":"quantitative","axis":null},
 "y2":{"datum":0.1108}
}
},
{
"data":{"name":"minor"},
"mark":{"type":"rule","color":"black","strokeWidth":2,"opacity":1},
"encoding":{
 "x":{"field":"t","type":"quantitative","axis":null},
 "y":{"datum":0.1,"type":"quantitative","axis":null},
 "y2":{"datum":0.1058}
}
},
{
"data":{"name":"major"},
"mark":{"type":"rule","color":"black","strokeWidth":2,"opacity":1},
"encoding":{
 "y":{"field":"t","type":"quantitative","axis":null},
 "x":{"datum":0.1,"type":"quantitative","axis":null},
 "x2":{"datum":0.1095}
}
},
{
"data":{"name":"minor"},
"mark":{"type":"rule","color":"black","strokeWidth":2,"opacity":1},
"encoding":{
 "y":{"field":"t","type":"quantitative","axis":null},
 "x":{"datum":0.1,"type":"quantitative","axis":null},
 "x2":{"datum":0.1047}
}
}
]
}
